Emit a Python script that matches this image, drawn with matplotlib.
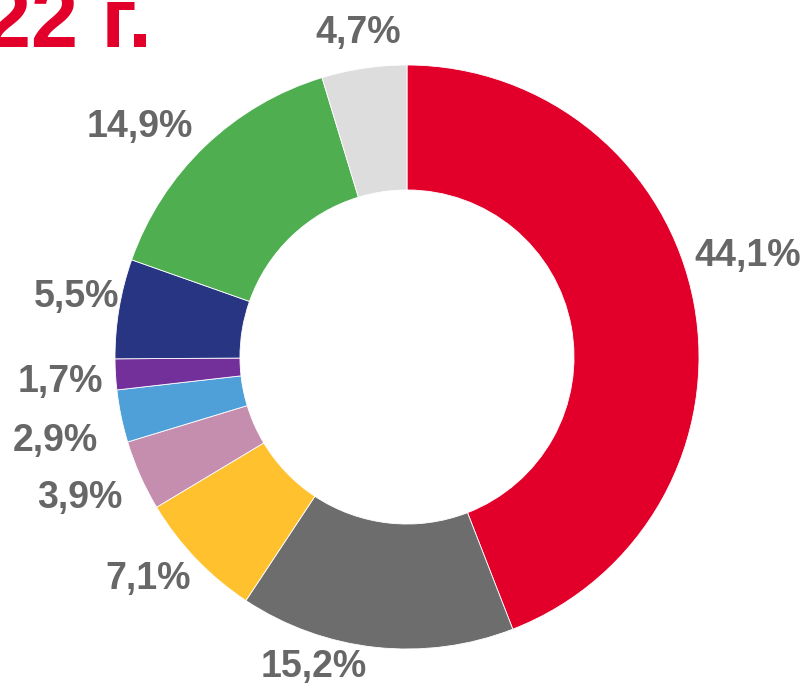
import matplotlib
matplotlib.use("Agg")
import matplotlib.pyplot as plt

# ── Data ──────────────────────────────────────────────────────────────────────
labels = ["44,1%", "15,2%", "7,1%", "3,9%", "2,9%", "1,7%", "5,5%", "14,9%", "4,7%"]
values = [44.1, 15.2, 7.1, 3.9, 2.9, 1.7, 5.5, 14.9, 4.7]
colors = ["#E2002B", "#6D6D6D", "#FFC12E", "#C68EAE", "#4F9FD8",
          "#73309B", "#283583", "#4FAE50", "#DDDDDD"]

# label positions in units of the outer radius (layout only)
label_pos = [(1.168, 0.346), (-0.318, -1.062), (-0.887, -0.760), (-1.120, -0.483),
             (-1.205, -0.288), (-1.188, -0.086), (-1.130, 0.205), (-0.914, 0.788),
             (-0.168, 1.110)]

TEXT = "#676767"
RED = "#E2002B"

# ── Figure ────────────────────────────────────────────────────────────────────
W, H = 808, 688
CX, CY, R = 407, 357, 292   # pixel centre / outer radius

fig = plt.figure(figsize=(W / 100, H / 100), dpi=100)
ax = fig.add_axes([0, 0, 1, 1])

ax.pie(values, colors=colors, startangle=90, counterclock=False, radius=1.0,
       wedgeprops=dict(width=0.428, edgecolor="white", linewidth=0.6))

# pie() resets the limits, so set them afterwards
ax.set_xlim(-CX / R, (W - CX) / R)
ax.set_ylim(-(H - CY) / R, CY / R)
ax.set_aspect("equal")
ax.axis("off")

for lab, (x, y) in zip(labels, label_pos):
    ax.text(x, y, lab, ha="center", va="center", fontsize=27,
            fontweight="bold", color=TEXT, family="Liberation Sans")

# title fragment at the top-left corner
fig.text(152 / W, 1 - 47 / H, "22 г.", ha="right", va="baseline",
         fontsize=61, fontweight="bold", color=RED, family="Liberation Sans")

fig.savefig("out.png", dpi=100, facecolor="white")
